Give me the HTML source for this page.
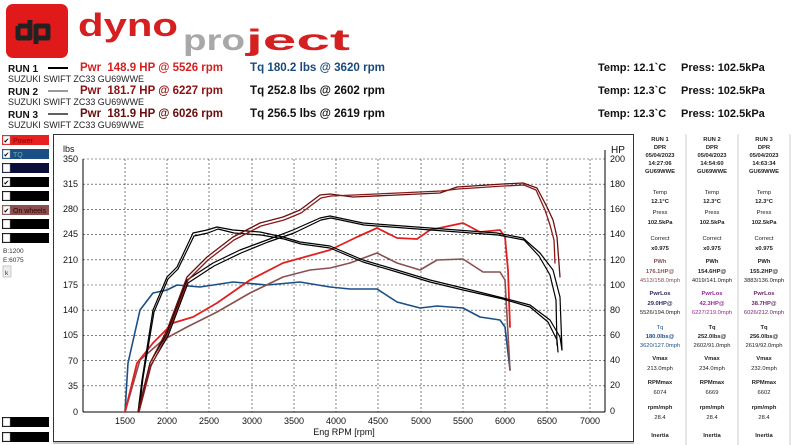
<!DOCTYPE html>
<html><head><meta charset="utf-8"><style>
html,body{margin:0;padding:0;background:#fff;width:792px;height:445px;overflow:hidden}
svg{display:block;font-family:"Liberation Sans",Arial,sans-serif}
</style></head><body>
<svg width="792" height="445" viewBox="0 0 792 445" xmlns="http://www.w3.org/2000/svg">
<!-- logo -->
<rect x="6" y="4" width="62" height="54" rx="7" fill="#e01a1a"/>
<path d="M18 26 h12 M18 26 v12 h12 v-18 M36 44 v-18 h12 v12 h-12" stroke="#222" stroke-width="5" fill="none" stroke-linejoin="round"/>
<text x="78" y="36" font-size="32" font-weight="bold" fill="#d42020" textLength="100" lengthAdjust="spacingAndGlyphs">dyno</text>
<text x="183" y="50" font-size="30" font-weight="bold" fill="#a8a8a8" textLength="62" lengthAdjust="spacingAndGlyphs">pro</text>
<text x="246" y="50" font-size="30" font-weight="bold" fill="#d42020" textLength="104" lengthAdjust="spacingAndGlyphs">ject</text>
<!-- run lines -->
<g font-size="10" font-weight="bold" fill="#111">
<text x="8" y="72">RUN 1</text><text x="8" y="95">RUN 2</text><text x="8" y="118">RUN 3</text>
</g>
<line x1="48" y1="68" x2="68" y2="68" stroke="#000" stroke-width="2"/>
<line x1="48" y1="91" x2="68" y2="91" stroke="#333" stroke-width="1"/>
<line x1="48" y1="114" x2="68" y2="114" stroke="#000" stroke-width="1.3"/>
<g font-size="9" fill="#222">
<text x="8" y="82" textLength="136" lengthAdjust="spacingAndGlyphs">SUZUKI SWIFT ZC33 GU69WWE</text><text x="8" y="105" textLength="136" lengthAdjust="spacingAndGlyphs">SUZUKI SWIFT ZC33 GU69WWE</text><text x="8" y="128" textLength="136" lengthAdjust="spacingAndGlyphs">SUZUKI SWIFT ZC33 GU69WWE</text>
</g>
<g font-size="11.5" font-weight="bold">
<text x="80" y="71" fill="#d42020" xml:space="preserve" textLength="143" lengthAdjust="spacingAndGlyphs">Pwr  148.9 HP @ 5526 rpm</text>
<text x="80" y="94" fill="#8b1010" xml:space="preserve" textLength="143" lengthAdjust="spacingAndGlyphs">Pwr  181.7 HP @ 6227 rpm</text>
<text x="80" y="117" fill="#6a0c0c" xml:space="preserve" textLength="143" lengthAdjust="spacingAndGlyphs">Pwr  181.9 HP @ 6026 rpm</text>
<text x="250" y="71" fill="#1a4a7a" textLength="135" lengthAdjust="spacingAndGlyphs">Tq 180.2 lbs @ 3620 rpm</text>
<text x="250" y="94" fill="#111" textLength="135" lengthAdjust="spacingAndGlyphs">Tq 252.8 lbs @ 2602 rpm</text>
<text x="250" y="117" fill="#111" textLength="135" lengthAdjust="spacingAndGlyphs">Tq 256.5 lbs @ 2619 rpm</text>
</g>
<g font-size="11" font-weight="bold" fill="#111">
<text x="598" y="71">Temp: 12.1`C</text><text x="681" y="71">Press: 102.5kPa</text>
<text x="598" y="94">Temp: 12.3`C</text><text x="681" y="94">Press: 102.5kPa</text>
<text x="598" y="117">Temp: 12.3`C</text><text x="681" y="117">Press: 102.5kPa</text>
</g>
<!-- left panel buttons -->
<g>
<rect x="2" y="135" width="47" height="10" fill="#e82020"/>
<rect x="2" y="149" width="47" height="10" fill="#1a4f85"/>
<rect x="2" y="163" width="47" height="10" fill="#0a0f3a"/>
<rect x="2" y="177" width="47" height="10" fill="#000"/>
<rect x="2" y="191" width="47" height="10" fill="#000"/>
<rect x="2" y="205" width="47" height="10" fill="#8a5050"/>
<rect x="2" y="219" width="47" height="10" fill="#000"/>
<rect x="2" y="233" width="47" height="10" fill="#000"/>
<rect x="2" y="417" width="47" height="10" fill="#000"/>
<rect x="2" y="432" width="47" height="10" fill="#000"/>
<g fill="#fff" stroke="#888" stroke-width="0.5">
<rect x="3" y="136" width="7" height="8"/><rect x="3" y="150" width="7" height="8"/><rect x="3" y="164" width="7" height="8"/><rect x="3" y="178" width="7" height="8"/><rect x="3" y="192" width="7" height="8"/><rect x="3" y="206" width="7" height="8"/><rect x="3" y="220" width="7" height="8"/><rect x="3" y="234" width="7" height="8"/><rect x="3" y="418" width="7" height="8"/><rect x="3" y="433" width="7" height="8"/>
</g>
<g font-size="7" fill="#000"><text x="3.5" y="143">✔</text><text x="3.5" y="157">✔</text><text x="3.5" y="185">✔</text><text x="3.5" y="213">✔</text></g>
<text x="13" y="143" font-size="7" fill="#800">Power</text>
<text x="13" y="157" font-size="7" fill="#7aa">TQ</text>
<text x="13" y="213" font-size="7" fill="#300">On wheels</text>
<text x="3" y="253" font-size="6.5" fill="#333">B:1200</text>
<text x="3" y="262" font-size="6.5" fill="#333">E:6075</text>
<rect x="3" y="266" width="8" height="11" fill="#eee" stroke="#aaa" stroke-width="0.6"/>
<text x="5" y="275" font-size="6.5" fill="#333">k</text>
</g>
<!-- chart frame -->
<rect x="53.5" y="134.5" width="580" height="307" fill="#fff" stroke="#333" stroke-width="1"/>
<line x1="53" y1="443" x2="634" y2="443" stroke="#888" stroke-width="1"/>
<!-- grid -->
<g stroke="#333" stroke-width="0.6" stroke-dasharray="2,2">
<line x1="125" y1="159" x2="125" y2="412"/><line x1="167" y1="159" x2="167" y2="412"/><line x1="209" y1="159" x2="209" y2="412"/><line x1="252" y1="159" x2="252" y2="412"/><line x1="294" y1="159" x2="294" y2="412"/><line x1="336" y1="159" x2="336" y2="412"/><line x1="378" y1="159" x2="378" y2="412"/><line x1="421" y1="159" x2="421" y2="412"/><line x1="463" y1="159" x2="463" y2="412"/><line x1="505" y1="159" x2="505" y2="412"/><line x1="547" y1="159" x2="547" y2="412"/><line x1="590" y1="159" x2="590" y2="412"/>
<line x1="83" y1="159" x2="605" y2="159"/><line x1="83" y1="184.2" x2="605" y2="184.2"/><line x1="83" y1="209.4" x2="605" y2="209.4"/><line x1="83" y1="234.6" x2="605" y2="234.6"/><line x1="83" y1="259.8" x2="605" y2="259.8"/><line x1="83" y1="285" x2="605" y2="285"/><line x1="83" y1="310.2" x2="605" y2="310.2"/><line x1="83" y1="335.4" x2="605" y2="335.4"/><line x1="83" y1="360.6" x2="605" y2="360.6"/><line x1="83" y1="385.8" x2="605" y2="385.8"/>
</g>
<g stroke="#000" stroke-width="1">
<line x1="83" y1="159" x2="83" y2="412"/><line x1="83" y1="412" x2="605" y2="412"/><line x1="605" y1="150" x2="605" y2="412"/>
</g>
<g font-size="9" fill="#111" text-anchor="end">
<text x="78" y="162">350</text><text x="78" y="187">315</text><text x="78" y="212">280</text><text x="78" y="237">245</text><text x="78" y="263">210</text><text x="78" y="288">175</text><text x="78" y="313">140</text><text x="78" y="338">105</text><text x="78" y="364">70</text><text x="78" y="389">35</text><text x="78" y="415">0</text>
</g>
<text x="63" y="152" font-size="9" fill="#111">lbs</text>
<text x="611" y="153" font-size="10" fill="#111">HP</text>
<g font-size="9" fill="#111">
<text x="610" y="162">200</text><text x="610" y="187">180</text><text x="610" y="212">160</text><text x="610" y="237">140</text><text x="610" y="263">120</text><text x="610" y="288">100</text><text x="610" y="313">80</text><text x="610" y="338">60</text><text x="610" y="363">40</text><text x="610" y="388">20</text><text x="610" y="414">0</text>
</g>
<g font-size="9" fill="#111" text-anchor="middle">
<text x="125" y="424">1500</text><text x="167" y="424">2000</text><text x="209" y="424">2500</text><text x="252" y="424">3000</text><text x="294" y="424">3500</text><text x="336" y="424">4000</text><text x="378" y="424">4500</text><text x="421" y="424">5000</text><text x="463" y="424">5500</text><text x="505" y="424">6000</text><text x="547" y="424">6500</text><text x="590" y="424">7000</text>
<text x="344" y="435">Eng RPM [rpm]</text>
</g>
<!-- curves -->
<g fill="none" stroke-linejoin="round" stroke-linecap="round">
<polyline stroke="#1a4f85" stroke-width="1.6" points="125,412 128,363 140,310 153,293 167,290 177,285 200,287 233,282 267,285 300,282 330,287 350,289 377,289 397,302 420,308 437,306 463,308 480,317 500,320 505,327 510,370"/>
<polyline stroke="#8a5050" stroke-width="1.6" points="125,412 140,360 163,340 187,327 217,312 250,293 283,277 310,270 330,268 350,263 377,253 397,263 420,270 437,260 463,259 483,272 500,272 505,280 510,370"/>
<polyline stroke="#e02020" stroke-width="1.8" points="125,412 137,363 153,343 173,323 193,317 217,303 250,280 283,263 330,250 357,237 377,228 397,238 417,239 430,230 463,223 480,232 500,230 505,237 508,270 510,327"/>
<polyline stroke="#000" stroke-width="1.2" points="138,412 142,380 153,310 167,277 177,267 193,233 207,230 217,227 233,230 260,232 283,237 300,242 330,246 363,260 397,270 430,280 463,288 503,298 530,305 550,320 560,337 562,350"/>
<polyline stroke="#000" stroke-width="1.2" points="139,412 143,378 154,312 168,279 178,269 194,236 208,233 218,229 234,233 261,235 284,239 301,244 330,248 363,262 397,272 430,282 463,290 503,299 530,307 548,322 557,340 558,352"/>
<polyline stroke="#000" stroke-width="1.2" points="138,412 150,363 167,333 187,280 213,263 240,250 267,240 293,230 320,218 330,216 363,223 430,228 497,233 523,238 540,253 553,270 560,297 562,350"/>
<polyline stroke="#000" stroke-width="1.2" points="139,412 151,365 168,336 188,283 214,266 241,253 268,242 294,233 321,220 331,218 364,225 431,230 498,235 524,240 539,256 550,275 556,300 557,345"/>
<polyline stroke="#6a1010" stroke-width="1.3" points="138,412 150,363 167,330 187,277 207,257 233,237 260,223 283,217 300,210 320,195 330,194 353,197 397,195 440,193 457,187 503,184 523,183 537,188 547,207 553,220 557,237 560,277"/>
<polyline stroke="#8b1818" stroke-width="1.3" points="139,412 151,366 168,333 188,280 208,260 234,240 261,226 284,220 301,213 321,198 331,196 354,195 398,193 441,191 458,189 504,186 524,185 536,190 545,210 550,225 554,240 555,263"/>
</g>
<!-- right panel -->
<g stroke="#ccc" stroke-width="1"><line x1="686" y1="134" x2="686" y2="445"/><line x1="738" y1="134" x2="738" y2="445"/><line x1="790" y1="134" x2="790" y2="445"/></g>
<g font-size="5.8" text-anchor="middle" fill="#222" font-weight="bold">
<g transform="translate(660,0)">
<text y="141">RUN 1</text><text y="149">DPR</text><text y="157">05/04/2023</text><text y="165">14:27:06</text><text y="173">GU69WWE</text>
<text y="194" font-weight="normal">Temp</text><text y="203">12.1°C</text><text y="214" font-weight="normal">Press</text><text y="224">102.5kPa</text>
<text y="240" font-weight="normal">Correct</text><text y="250">x0.975</text>
<text y="263" fill="#8a5050">PWh</text><text y="273" fill="#8a5050">176.1HP@</text><text y="282" fill="#8a5050" font-weight="normal">4513/158.0mph</text>
<text y="295" fill="#2a2a60">PwrLos</text><text y="305" fill="#2a2a60">29.0HP@</text><text y="314" font-weight="normal">5526/194.0mph</text>
<text y="329" fill="#1a4f85" font-weight="normal">Tq</text><text y="338" fill="#1a4f85">180.0lbs@</text><text y="347" fill="#1a4f85" font-weight="normal">3620/127.0mph</text>
<text y="360">Vmax</text><text y="370" font-weight="normal">213.0mph</text>
<text y="384">RPMmax</text><text y="394" font-weight="normal">6074</text>
<text y="409">rpm/mph</text><text y="419" font-weight="normal">28.4</text>
<text y="437">Inertia</text>
</g>
<g transform="translate(712,0)">
<text y="141">RUN 2</text><text y="149">DPR</text><text y="157">05/04/2023</text><text y="165">14:54:60</text><text y="173">GU69WWE</text>
<text y="194" font-weight="normal">Temp</text><text y="203">12.3°C</text><text y="214" font-weight="normal">Press</text><text y="224">102.5kPa</text>
<text y="240" font-weight="normal">Correct</text><text y="250">x0.975</text>
<text y="263">PWh</text><text y="273">154.6HP@</text><text y="282" font-weight="normal">4019/141.0mph</text>
<text y="295" fill="#9a2a9a">PwrLos</text><text y="305" fill="#9a2a9a">42.3HP@</text><text y="314" fill="#9a2a9a" font-weight="normal">6227/219.0mph</text>
<text y="329">Tq</text><text y="338">252.0lbs@</text><text y="347" font-weight="normal">2602/91.0mph</text>
<text y="360">Vmax</text><text y="370" font-weight="normal">234.0mph</text>
<text y="384">RPMmax</text><text y="394" font-weight="normal">6669</text>
<text y="409">rpm/mph</text><text y="419" font-weight="normal">28.4</text>
<text y="437">Inertia</text>
</g>
<g transform="translate(764,0)">
<text y="141">RUN 3</text><text y="149">DPR</text><text y="157">05/04/2023</text><text y="165">14:63:34</text><text y="173">GU69WWE</text>
<text y="194" font-weight="normal">Temp</text><text y="203">12.3°C</text><text y="214" font-weight="normal">Press</text><text y="224">102.5kPa</text>
<text y="240" font-weight="normal">Correct</text><text y="250">x0.975</text>
<text y="263">PWh</text><text y="273">155.2HP@</text><text y="282" font-weight="normal">3883/136.0mph</text>
<text y="295" fill="#6a2a6a">PwrLos</text><text y="305" fill="#6a2a6a">38.7HP@</text><text y="314" fill="#6a2a6a" font-weight="normal">6026/212.0mph</text>
<text y="329">Tq</text><text y="338">256.0lbs@</text><text y="347" font-weight="normal">2619/92.0mph</text>
<text y="360">Vmax</text><text y="370" font-weight="normal">232.0mph</text>
<text y="384">RPMmax</text><text y="394" font-weight="normal">6602</text>
<text y="409">rpm/mph</text><text y="419" font-weight="normal">28.4</text>
<text y="437">Inertia</text>
</g>
</g>
</svg>
</body></html>
